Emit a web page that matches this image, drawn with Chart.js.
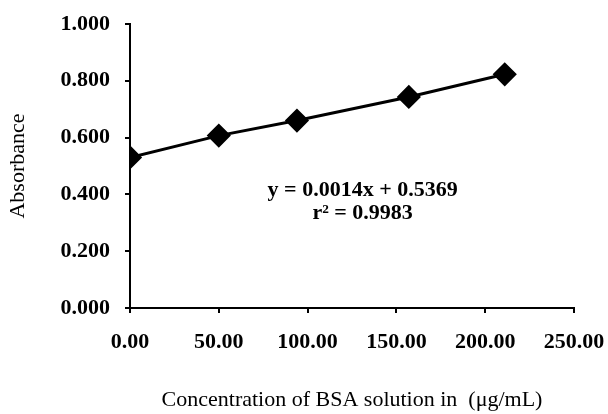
<!DOCTYPE html>
<html lang="en">
<head>
  <meta charset="UTF-8">
  <title>BSA standard curve</title>
  <script src="https://cdn.jsdelivr.net/npm/chart.js"></script>
  <style>
    body { margin: 0; background: #fff; }
  </style>
</head>
<body>
<canvas id="bsaChart" width="608" height="414"></canvas>

<script>
  // concentration (ug/mL) and absorbance
  const concentration = [0, 50, 94, 157, 211];
  const absorbance = [0.530, 0.607, 0.660, 0.743, 0.823];

  const xTicks = [0, 50, 100, 150, 200, 250];
  const yTicks = [0, 0.2, 0.4, 0.6, 0.8, 1.0];

  const equationLines = ['y = 0.0014x + 0.5369', 'r\u00B2 = 0.9983'];

  const serif = '"Liberation Serif", "Times New Roman", serif';

  // writes the regression text at data coordinates
  const equationPlugin = {
    id: 'equation',
    afterDatasetsDraw(chart) {
      const ctx = chart.ctx;
      const x = chart.scales.x.getPixelForValue(131);
      const y1 = chart.scales.y.getPixelForValue(0.415);
      const y2 = chart.scales.y.getPixelForValue(0.333);
      ctx.save();
      ctx.fillStyle = '#000';
      ctx.font = 'bold 22px ' + serif;
      ctx.textAlign = 'center';
      ctx.textBaseline = 'middle';
      ctx.fillText(equationLines[0], x, y1);
      ctx.fillText(equationLines[1], x, y2);
      ctx.restore();
    }
  };

  const config = {
    type: 'scatter',
    data: {
      datasets: [{
        data: concentration.map((c, i) => ({ x: c, y: absorbance[i] })),
        showLine: true,
        borderColor: '#000',
        borderWidth: 3,
        backgroundColor: '#000',
        pointStyle: 'rectRot',
        pointRadius: 10,
        pointHoverRadius: 10,
        tension: 0
      }]
    },
    options: {
      responsive: false,
      animation: false,
      layout: { padding: { left: 0, right: 34, top: 24, bottom: 0 } },
      plugins: {
        legend: { display: false },
        tooltip: { enabled: false }
      },
      scales: {
        x: {
          type: 'linear',
          min: 0,
          max: 250,
          afterBuildTicks: s => { s.ticks = xTicks.map(v => ({ value: v })); },
          afterFit: s => { s.height = 106; s.paddingLeft = 0; s.paddingRight = 0; },
          ticks: {
            color: '#000',
            padding: 16,
            maxRotation: 0,
            font: { family: serif, size: 22, weight: 'bold' },
            callback: v => v.toFixed(2)
          },
          grid: { drawOnChartArea: false, drawTicks: true, tickLength: 5, color: '#000', lineWidth: 2 },
          border: { color: '#000', width: 2 },
          title: {
            display: true,
            text: 'Concentration of BSA solution in  (\u03BCg/mL)',
            color: '#000',
            font: { family: serif, size: 22 },
            padding: { top: 0, bottom: 1 }
          }
        },
        y: {
          min: 0,
          max: 1,
          afterBuildTicks: s => { s.ticks = yTicks.map(v => ({ value: v })); },
          afterFit: s => { s.width = 130; s.paddingTop = 0; s.paddingBottom = 0; },
          ticks: {
            color: '#000',
            padding: 15,
            font: { family: serif, size: 22, weight: 'bold' },
            callback: v => v.toFixed(3)
          },
          grid: { drawOnChartArea: false, drawTicks: true, tickLength: 5, color: '#000', lineWidth: 2 },
          border: { color: '#000', width: 2 },
          title: {
            display: true,
            text: 'Absorbance',
            color: '#000',
            font: { family: serif, size: 22 },
            padding: { top: 5, bottom: 0 }
          }
        }
      }
    },
    plugins: [equationPlugin]
  };

  new Chart(document.getElementById('bsaChart'), config);
</script>
</body>
</html>
